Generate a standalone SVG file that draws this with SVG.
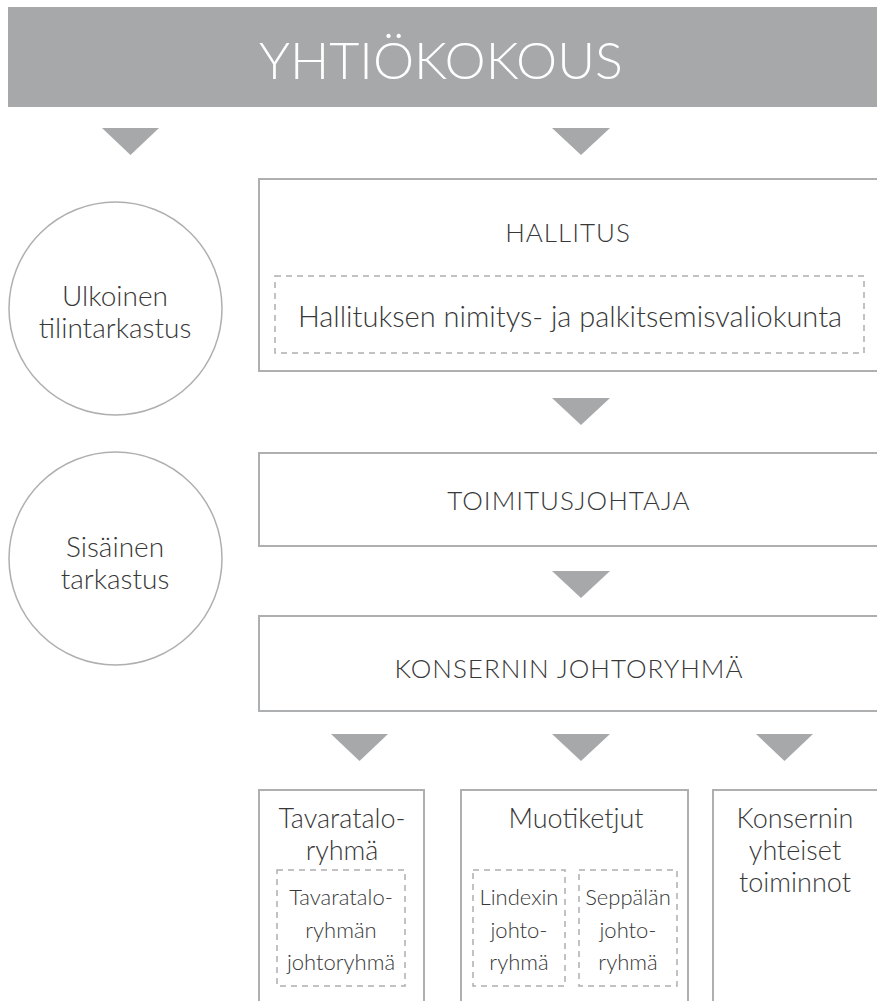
<svg xmlns="http://www.w3.org/2000/svg" width="877" height="1001" viewBox="0 0 877 1001">
<style>
.box{fill:#fff;stroke:#aeafb1;stroke-width:2}
.dash{fill:none;stroke:#aeafb1;stroke-width:1.5;stroke-dasharray:6 5}
.circ{fill:#fff;stroke:#aeafb1;stroke-width:1.5}
.arr{fill:#a7a8aa}
text{font-family:"Lato Light",Lato,"Open Sans","Liberation Sans",sans-serif;font-weight:300;fill:#383838;text-anchor:middle}
.cap{font-size:26px;letter-spacing:1px}
.t28{font-size:28px}
.t27{font-size:27px}
.t22{font-size:22px}
</style>
<rect width="877" height="1001" fill="#fff"/>
<g id="yhtiokokous">
<rect x="8" y="7" width="869" height="100" fill="#a7a8aa"/>
<text x="441" y="79" style="font-size:52px;fill:#fff">YHTIÖKOKOUS</text>
</g>
<g id="connectors">
<polygon class="arr" points="102,128 159,128 130.5,155"/>
<polygon class="arr" points="552,128 610,128 581,155"/>
<polygon class="arr" points="552,398 610,398 581,425"/>
<polygon class="arr" points="552,571 610,571 581,598"/>
<polygon class="arr" points="331,734 388,734 359.5,761"/>
<polygon class="arr" points="552,734 610,734 581,761"/>
<polygon class="arr" points="756,734 813,734 784.5,761"/>
</g>
<g id="ulkoinen">
<circle class="circ" cx="115.5" cy="308.5" r="106.5"/>
<text class="t28" x="115" y="306">Ulkoinen</text>
<text class="t28" x="115" y="338">tilintarkastus</text>
</g>
<g id="sisainen">
<circle class="circ" cx="115.5" cy="558.5" r="106.5"/>
<text class="t28" x="115" y="557">Sisäinen</text>
<text class="t28" x="115" y="589">tarkastus</text>
</g>
<g id="hallitus">
<rect class="box" x="259" y="179" width="700" height="192"/>
<text class="cap" x="568" y="242">HALLITUS</text>
<rect class="dash" x="275" y="276" width="589" height="77"/>
<text x="570" y="327" style="font-size:29px">Hallituksen nimitys- ja palkitsemisvaliokunta</text>
</g>
<g id="toimitusjohtaja">
<rect class="box" x="259" y="453" width="700" height="93"/>
<text class="cap" x="569" y="510">TOIMITUSJOHTAJA</text>
</g>
<g id="konsernin-johtoryhma">
<rect class="box" x="259" y="616" width="700" height="95"/>
<text class="cap" x="569" y="678">KONSERNIN JOHTORYHMÄ</text>
</g>
<g id="tavaratalo">
<rect class="box" x="259" y="790" width="165" height="230"/>
<text class="t27" x="342" y="828">Tavaratalo-</text>
<text class="t27" x="342" y="860">ryhmä</text>
<rect class="dash" x="277" y="870" width="128" height="116"/>
<text class="t22" x="341" y="905">Tavaratalo-</text>
<text class="t22" x="341" y="938">ryhmän</text>
<text class="t22" x="341" y="970">johtoryhmä</text>
</g>
<g id="muotiketjut">
<rect class="box" x="461" y="790" width="227" height="230"/>
<text class="t27" x="576" y="828">Muotiketjut</text>
<rect class="dash" x="473" y="870" width="92" height="116"/>
<text class="t22" x="519" y="905">Lindexin</text>
<text class="t22" x="519" y="938">johto-</text>
<text class="t22" x="519" y="970">ryhmä</text>
<rect class="dash" x="579" y="870" width="98" height="116"/>
<text class="t22" x="628" y="905">Seppälän</text>
<text class="t22" x="628" y="938">johto-</text>
<text class="t22" x="628" y="970">ryhmä</text>
</g>
<g id="konsernin-yhteiset">
<rect class="box" x="713" y="790" width="200" height="230"/>
<text class="t27" x="795" y="828">Konsernin</text>
<text class="t27" x="795" y="860">yhteiset</text>
<text class="t27" x="795" y="892">toiminnot</text>
</g>
</svg>
